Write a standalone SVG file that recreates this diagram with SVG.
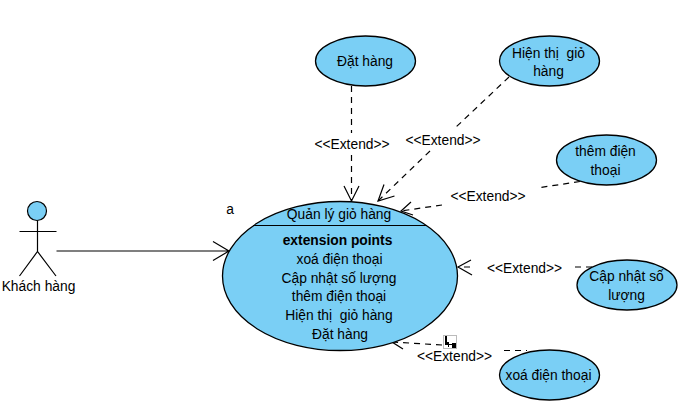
<svg xmlns="http://www.w3.org/2000/svg" width="684" height="415" viewBox="0 0 684 415">
<style>
text{font-family:"Liberation Sans",Arial,sans-serif;font-size:13.800px;fill:#000;text-anchor:middle;white-space:pre}
.uc{fill:#7acff5;stroke:#000;stroke-width:1.300}
.ln{fill:none;stroke:#000;stroke-width:1.200}
.d{fill:none;stroke:#000;stroke-width:1.200;stroke-dasharray:6 5}
.b{font-weight:bold}
</style>
<rect width="684" height="415" fill="#fff"/>
<g id="connectors">
<path class="ln" d="M56.500 251H229M213 241.500L229 251L213 260.500"/>
<path class="d" d="M351.500 86V133M351.500 155V201"/>
<path class="ln" d="M344 186L351.500 201L359 186"/>
<path class="d" d="M509 77L455 128M430 151L378 201"/>
<path class="ln" d="M384 184.500L378 201L394.500 196"/>
<path class="d" d="M580 181.500L537 188M442 205L401 211"/>
<path class="ln" d="M411 202L401 211L413 215"/>
<path class="d" d="M575 267H593M470 267H458"/>
<path class="ln" d="M471 260L458 267L472 275"/>
<path class="d" d="M504 350.500H527M442 345L392 342"/>
<path class="ln" d="M403 337L392 342L403 349"/>
</g>
<g id="label-extend-1"><text x="352" y="149">&lt;&lt;Extend&gt;&gt;</text></g>
<g id="label-extend-2"><text x="443" y="145">&lt;&lt;Extend&gt;&gt;</text></g>
<g id="label-extend-3"><text x="488" y="201">&lt;&lt;Extend&gt;&gt;</text></g>
<g id="label-extend-4"><text x="524.500" y="273">&lt;&lt;Extend&gt;&gt;</text></g>
<g id="label-extend-5"><text x="454.500" y="361">&lt;&lt;Extend&gt;&gt;</text></g>
<g id="actor">
<circle class="uc" cx="37" cy="211" r="9.500" style="stroke-width:1.200"/>
<path class="ln" d="M37.500 220.500V251.500M19.500 231.500H56.500M19.500 276L37.500 251.500L56 276"/>
<text x="38.500" y="291">Khách hàng</text>
</g>
<g id="main-usecase">
<ellipse class="uc" cx="340" cy="276" rx="117.500" ry="74.500"/>
<path class="ln" d="M253 225.500H427"/>
<text x="339" y="219">Quản lý giỏ hàng</text>
<text class="b" x="337.500" y="245">extension points</text>
<text x="339.500" y="264">xoá điện thoại</text>
<text x="339" y="283">Cập nhật số lượng</text>
<text x="339" y="301">thêm điện thoại</text>
<text x="339" y="320">Hiện thị  giỏ hàng</text>
<text x="340" y="339">Đặt hàng</text>
</g>
<g id="uc-dat-hang"><ellipse class="uc" cx="365.500" cy="61" rx="50" ry="25"/><text x="365" y="66">Đặt hàng</text></g>
<g id="uc-hien-thi"><ellipse class="uc" cx="549.500" cy="61" rx="50" ry="25"/><text x="548.500" y="58">Hiện thị  giỏ</text><text x="548.500" y="76">hàng</text></g>
<g id="uc-them"><ellipse class="uc" cx="606.500" cy="160" rx="50" ry="25"/><text x="605.500" y="156">thêm điện</text><text x="605.500" y="175">thoại</text></g>
<g id="uc-cap-nhat"><ellipse class="uc" cx="627" cy="285" rx="50" ry="25"/><text x="626.500" y="281">Cập nhật số</text><text x="626.500" y="300">lượng</text></g>
<g id="uc-xoa"><ellipse class="uc" cx="549.500" cy="375" rx="50" ry="25"/><text x="548.500" y="380">xoá điện thoại</text></g>
<g id="label-a"><text x="230" y="214">a</text></g>
<g id="resize-icon">
<rect x="443.500" y="335.500" width="13" height="13" fill="#fff" stroke="#bbb"/>
<path d="M445 336H447V342H449V344H452V345H449V347H448V345H445Z" fill="#000"/>
<rect x="452" y="343" width="4" height="5" fill="#000"/>
</g>
</svg>
